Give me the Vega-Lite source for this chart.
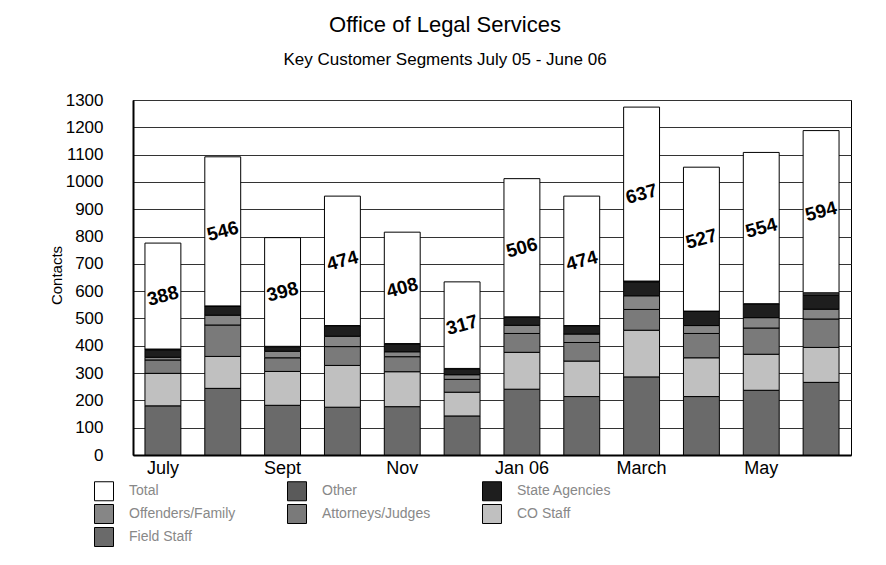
{
  "$schema": "https://vega.github.io/schema/vega-lite/v6.json",
  "width": 718,
  "height": 355,
  "autosize": {"type": "none"},
  "padding": {"left": 133, "top": 100, "right": 35, "bottom": 110},
  "background": "white",
  "title": {
    "text": "Office of Legal Services",
    "subtitle": "Key Customer Segments July 05 - June 06",
    "font": "Liberation Sans",
    "subtitleFont": "Liberation Sans",
    "fontSize": 22,
    "subtitleFontSize": 17,
    "fontWeight": "normal",
    "color": "black",
    "subtitleColor": "black",
    "anchor": "middle",
    "frame": "group",
    "dx": -47,
    "offset": 22,
    "subtitlePadding": 15
  },
  "data": {
    "values": [
      {"month": "July", "segment": "Field Staff", "value": 180},
      {"month": "July", "segment": "CO Staff", "value": 119},
      {"month": "July", "segment": "Attorneys/Judges", "value": 49},
      {"month": "July", "segment": "Offenders/Family", "value": 10},
      {"month": "July", "segment": "Other", "value": 4},
      {"month": "July", "segment": "State Agencies", "value": 26},
      {"month": "July", "segment": "Total", "value": 388},
      {"month": "Aug", "segment": "Field Staff", "value": 244},
      {"month": "Aug", "segment": "CO Staff", "value": 117},
      {"month": "Aug", "segment": "Attorneys/Judges", "value": 115},
      {"month": "Aug", "segment": "Offenders/Family", "value": 36},
      {"month": "Aug", "segment": "Other", "value": 2},
      {"month": "Aug", "segment": "State Agencies", "value": 32},
      {"month": "Aug", "segment": "Total", "value": 546},
      {"month": "Sept", "segment": "Field Staff", "value": 182},
      {"month": "Sept", "segment": "CO Staff", "value": 124},
      {"month": "Sept", "segment": "Attorneys/Judges", "value": 50},
      {"month": "Sept", "segment": "Offenders/Family", "value": 24},
      {"month": "Sept", "segment": "Other", "value": 2},
      {"month": "Sept", "segment": "State Agencies", "value": 16},
      {"month": "Sept", "segment": "Total", "value": 398},
      {"month": "Oct", "segment": "Field Staff", "value": 175},
      {"month": "Oct", "segment": "CO Staff", "value": 153},
      {"month": "Oct", "segment": "Attorneys/Judges", "value": 69},
      {"month": "Oct", "segment": "Offenders/Family", "value": 38},
      {"month": "Oct", "segment": "Other", "value": 1},
      {"month": "Oct", "segment": "State Agencies", "value": 38},
      {"month": "Oct", "segment": "Total", "value": 474},
      {"month": "Nov", "segment": "Field Staff", "value": 177},
      {"month": "Nov", "segment": "CO Staff", "value": 128},
      {"month": "Nov", "segment": "Attorneys/Judges", "value": 55},
      {"month": "Nov", "segment": "Offenders/Family", "value": 18},
      {"month": "Nov", "segment": "Other", "value": 2},
      {"month": "Nov", "segment": "State Agencies", "value": 28},
      {"month": "Nov", "segment": "Total", "value": 408},
      {"month": "Dec", "segment": "Field Staff", "value": 143},
      {"month": "Dec", "segment": "CO Staff", "value": 87},
      {"month": "Dec", "segment": "Attorneys/Judges", "value": 47},
      {"month": "Dec", "segment": "Offenders/Family", "value": 17},
      {"month": "Dec", "segment": "Other", "value": 2},
      {"month": "Dec", "segment": "State Agencies", "value": 21},
      {"month": "Dec", "segment": "Total", "value": 317},
      {"month": "Jan 06", "segment": "Field Staff", "value": 241},
      {"month": "Jan 06", "segment": "CO Staff", "value": 135},
      {"month": "Jan 06", "segment": "Attorneys/Judges", "value": 69},
      {"month": "Jan 06", "segment": "Offenders/Family", "value": 30},
      {"month": "Jan 06", "segment": "Other", "value": 1},
      {"month": "Jan 06", "segment": "State Agencies", "value": 30},
      {"month": "Jan 06", "segment": "Total", "value": 506},
      {"month": "Feb", "segment": "Field Staff", "value": 214},
      {"month": "Feb", "segment": "CO Staff", "value": 130},
      {"month": "Feb", "segment": "Attorneys/Judges", "value": 68},
      {"month": "Feb", "segment": "Offenders/Family", "value": 31},
      {"month": "Feb", "segment": "Other", "value": 1},
      {"month": "Feb", "segment": "State Agencies", "value": 30},
      {"month": "Feb", "segment": "Total", "value": 474},
      {"month": "March", "segment": "Field Staff", "value": 286},
      {"month": "March", "segment": "CO Staff", "value": 171},
      {"month": "March", "segment": "Attorneys/Judges", "value": 76},
      {"month": "March", "segment": "Offenders/Family", "value": 50},
      {"month": "March", "segment": "Other", "value": 4},
      {"month": "March", "segment": "State Agencies", "value": 50},
      {"month": "March", "segment": "Total", "value": 637},
      {"month": "April", "segment": "Field Staff", "value": 214},
      {"month": "April", "segment": "CO Staff", "value": 142},
      {"month": "April", "segment": "Attorneys/Judges", "value": 89},
      {"month": "April", "segment": "Offenders/Family", "value": 29},
      {"month": "April", "segment": "Other", "value": 1},
      {"month": "April", "segment": "State Agencies", "value": 52},
      {"month": "April", "segment": "Total", "value": 527},
      {"month": "May", "segment": "Field Staff", "value": 237},
      {"month": "May", "segment": "CO Staff", "value": 132},
      {"month": "May", "segment": "Attorneys/Judges", "value": 96},
      {"month": "May", "segment": "Offenders/Family", "value": 38},
      {"month": "May", "segment": "Other", "value": 1},
      {"month": "May", "segment": "State Agencies", "value": 50},
      {"month": "May", "segment": "Total", "value": 554},
      {"month": "June", "segment": "Field Staff", "value": 266},
      {"month": "June", "segment": "CO Staff", "value": 128},
      {"month": "June", "segment": "Attorneys/Judges", "value": 104},
      {"month": "June", "segment": "Offenders/Family", "value": 36},
      {"month": "June", "segment": "Other", "value": 9},
      {"month": "June", "segment": "State Agencies", "value": 51},
      {"month": "June", "segment": "Total", "value": 594}
    ]
  },
  "encoding": {
    "x": {
      "field": "month",
      "type": "nominal",
      "sort": null,
      "scale": {"paddingInner": 0.4, "paddingOuter": 0.2},
      "axis": {
        "title": null,
        "values": ["July", "Sept", "Nov", "Jan 06", "March", "May"],
        "labelAngle": 0,
        "labelFont": "Liberation Sans",
        "labelFontSize": 18,
        "labelColor": "black",
        "labelPadding": 4,
        "ticks": false,
        "domainColor": "black",
        "domainWidth": 2
      }
    }
  },
  "layer": [
    {
      "transform": [
        {"calculate": "datum.segment === 'Field Staff' ? 0 : datum.segment === 'CO Staff' ? 1 : datum.segment === 'Attorneys/Judges' ? 2 : datum.segment === 'Offenders/Family' ? 3 : datum.segment === 'State Agencies' ? 4 : datum.segment === 'Other' ? 5 : 6", "as": "stackOrder"}
      ],
      "mark": {"type": "bar", "stroke": "black", "strokeWidth": 1},
      "encoding": {
        "y": {
          "field": "value",
          "type": "quantitative",
          "stack": "zero",
          "scale": {"domain": [0, 1300], "nice": false},
          "axis": {
            "values": [0, 100, 200, 300, 400, 500, 600, 700, 800, 900, 1000, 1100, 1200, 1300],
            "format": "d",
            "grid": true,
            "gridColor": "#333333",
            "gridWidth": 1,
            "gridOpacity": 1,
            "ticks": false,
            "domainColor": "black",
            "domainWidth": 2,
            "labelFont": "Liberation Sans",
            "labelFontSize": 17,
            "labelColor": "black",
            "labelPadding": 30,
            "title": "Contacts",
            "titleFont": "Liberation Sans",
            "titleFontSize": 15,
            "titleFontWeight": "normal",
            "titleColor": "black",
            "titleX": -69,
            "titleY": 175,
            "titleAngle": 270,
            "titleAlign": "center",
            "titleBaseline": "bottom"
          }
        },
        "order": {"field": "stackOrder", "type": "quantitative", "sort": "ascending"},
        "color": {
          "field": "segment",
          "type": "nominal",
          "scale": {
            "domain": ["Total", "Other", "State Agencies", "Offenders/Family", "Attorneys/Judges", "CO Staff", "Field Staff"],
            "range": ["#ffffff", "#5a5a5a", "#1e1e1e", "#868686", "#7a7a7a", "#c0c0c0", "#6a6a6a"]
          },
          "legend": {
            "title": null,
            "orient": "none",
            "direction": "horizontal",
            "legendX": -39,
            "legendY": 381,
            "columns": 3,
            "symbolType": "square",
            "symbolSize": 361,
            "symbolStrokeColor": "black",
            "symbolStrokeWidth": 1,
            "symbolOpacity": 1,
            "labelFont": "Liberation Sans",
            "labelFontSize": 14,
            "labelColor": "#888888",
            "labelOffset": 15,
            "rowPadding": -1,
            "columnPadding": 49
          }
        }
      }
    },
    {
      "transform": [
        {"filter": "datum.segment === 'Total'"},
        {"calculate": "datum.value * 1.5", "as": "labelPos"}
      ],
      "mark": {"type": "text", "font": "Liberation Sans", "fontSize": 19, "fontWeight": "bold", "angle": 345, "color": "black"},
      "encoding": {
        "y": {
          "field": "labelPos",
          "type": "quantitative",
          "scale": {"domain": [0, 1300], "nice": false},
          "axis": {
            "values": [0, 100, 200, 300, 400, 500, 600, 700, 800, 900, 1000, 1100, 1200, 1300],
            "format": "d",
            "grid": true,
            "gridColor": "#333333",
            "gridWidth": 1,
            "gridOpacity": 1,
            "ticks": false,
            "domainColor": "black",
            "domainWidth": 2,
            "labelFont": "Liberation Sans",
            "labelFontSize": 17,
            "labelColor": "black",
            "labelPadding": 30,
            "title": "Contacts",
            "titleFont": "Liberation Sans",
            "titleFontSize": 15,
            "titleFontWeight": "normal",
            "titleColor": "black",
            "titleX": -69,
            "titleY": 175,
            "titleAngle": 270,
            "titleAlign": "center",
            "titleBaseline": "bottom"
          }
        },
        "text": {"field": "value", "type": "quantitative"}
      }
    }
  ],
  "config": {
    "view": {"stroke": "black", "strokeWidth": 1}
  }
}
